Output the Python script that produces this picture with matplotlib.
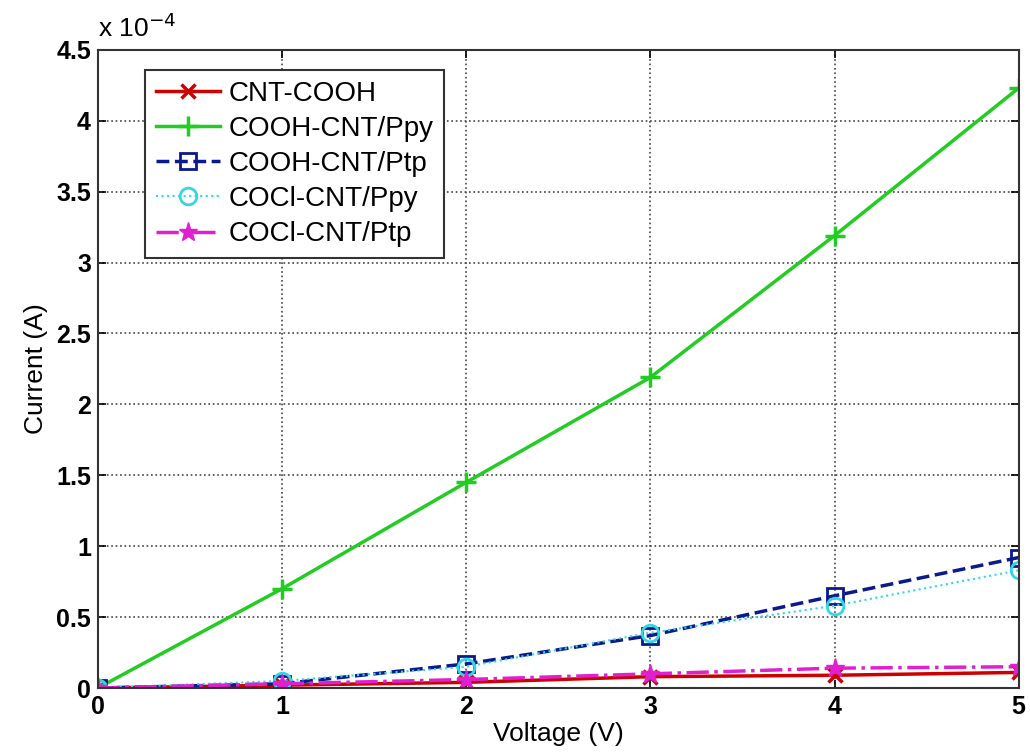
import matplotlib
matplotlib.use("Agg")
import matplotlib.pyplot as plt
from matplotlib.ticker import FuncFormatter, MultipleLocator

plt.rcParams['font.family'] = ['Liberation Sans', 'DejaVu Sans']

voltage = [0, 1, 2, 3, 4, 5]
# currents in units of 1e-4 A
cnt_cooh = [0.0, 0.02, 0.04, 0.08, 0.09, 0.11]
cooh_ppy = [0.0, 0.70, 1.45, 2.19, 3.19, 4.23]
cooh_ptp = [0.0, 0.03, 0.17, 0.37, 0.65, 0.92]
cocl_ppy = [0.0, 0.05, 0.15, 0.39, 0.58, 0.83]
cocl_ptp = [0.0, 0.03, 0.06, 0.10, 0.14, 0.15]
labels = ['CNT-COOH', 'COOH-CNT/Ppy', 'COOH-CNT/Ptp', 'COCl-CNT/Ppy', 'COCl-CNT/Ptp']

fig = plt.figure(figsize=(10.3, 7.54), dpi=100)
ax = fig.add_axes([0.095, 0.0875, 0.894, 0.8465])

ax.plot(voltage, cnt_cooh, color='#cc0000', ls='-', lw=2.5, marker='x', ms=10, mew=2.5, label=labels[0])
ax.plot(voltage, cooh_ppy, color='#22cc22', ls='-', lw=2.5, marker='+', ms=14, mew=2.5, label=labels[1])
ax.plot(voltage, cooh_ptp, color='#0a1a8c', ls='--', lw=2.5, marker='s', ms=11, mfc='none', mew=2, label=labels[2])
ax.plot(voltage, cocl_ppy, color='#33d6e6', ls=':', lw=1.5, marker='o', ms=12, mfc='none', mew=2, label=labels[3])
ax.plot(voltage, cocl_ptp, color='#e020d0', ls='-.', lw=2.5, marker='*', ms=14, mew=1, label=labels[4])

ax.set_xlim(0, 5)
ax.set_ylim(0, 4.5)
ax.xaxis.set_major_locator(MultipleLocator(1))
ax.yaxis.set_major_locator(MultipleLocator(0.5))
ax.yaxis.set_major_formatter(FuncFormatter(lambda v, p: '%g' % v))
ax.grid(True, ls=':', color='#444444', lw=1.2)
ax.tick_params(direction='in', labelsize=18, length=6, width=1.2, top=True, right=True, pad=5)
for lab in ax.get_xticklabels() + ax.get_yticklabels():
    lab.set_fontweight('bold')
for s in ax.spines.values():
    s.set_linewidth(1.5)
    s.set_color('#333333')

ax.set_xlabel('Voltage (V)', fontsize=19, labelpad=2)
ax.set_ylabel('Current (A)', fontsize=19, labelpad=6)
ax.text(0.0, 1.012, r'x 10$^{-4}$', transform=ax.transAxes, fontsize=19, ha='left', va='bottom')

leg = ax.legend(loc='upper left', bbox_to_anchor=(0.051, 0.969), fontsize=20, frameon=True, fancybox=False,
                edgecolor='#333333', framealpha=1, handlelength=2.3, handletextpad=0.3,
                labelspacing=0.33, borderpad=0.4, borderaxespad=0)
leg.get_frame().set_linewidth(1.5)

fig.savefig('out.png', dpi=100)
